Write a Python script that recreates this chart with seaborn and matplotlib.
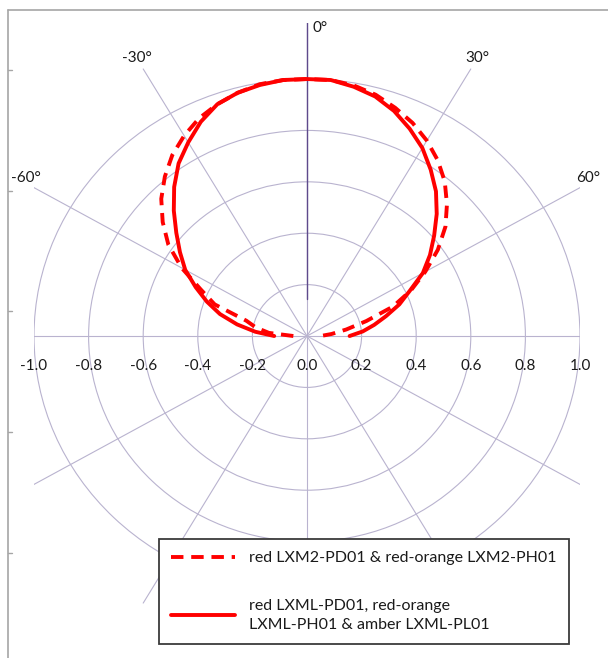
import numpy as np
import pandas as pd
import matplotlib
matplotlib.use("Agg")
import matplotlib.pyplot as plt
from matplotlib.patches import Circle
from matplotlib.lines import Line2D
import seaborn as sns

# radiation pattern, relative intensity vs. angle (deg)
angles = [-90, -85, -80, -75, -70, -65, -60, -55, -50, -45, -40, -35, -30, -25, -20, -15, -10, -5,
          0, 5, 10, 15, 20, 25, 30, 35, 40, 45, 50, 55, 60, 65, 70, 75, 80, 85, 90]
lxm2 = [0.05, 0.14, 0.19, 0.23, 0.36, 0.43, 0.53, 0.62, 0.69, 0.755, 0.81, 0.86, 0.90, 0.935, 0.96, 0.98, 0.995, 1.0,
        1.0, 1.0, 0.99, 0.972, 0.945, 0.915, 0.878, 0.835, 0.785, 0.725, 0.662, 0.585, 0.50, 0.42, 0.335, 0.225, 0.146, 0.09, 0.05]
lxml = [0.12, 0.19, 0.26, 0.33, 0.39, 0.45, 0.515, 0.568, 0.625, 0.69, 0.757, 0.82, 0.87, 0.92, 0.96, 0.98, 0.992, 1.0,
        1.0, 1.0, 0.985, 0.965, 0.932, 0.89, 0.845, 0.79, 0.735, 0.672, 0.608, 0.55, 0.49, 0.415, 0.36, 0.30, 0.25, 0.205, 0.156]

label_dash = "red LXM2-PD01 & red-orange LXM2-PH01"
label_solid = "red LXML-PD01, red-orange\nLXML-PH01 & amber LXML-PL01"

ring_radii = [0.2, 0.4, 0.6, 0.8, 1.0]
spoke_angles = list(range(0, 360, 30))
angle_labels = [-60, -30, 0, 30, 60]
x_ticks = [-1.0, -0.8, -0.6, -0.4, -0.2, 0.0, 0.2, 0.4, 0.6, 0.8, 1.0]

grid_col = "#B9B3CF"
dark_col = "#5E4A8C"
red = "#FF0000"
txt_col = "#1a1a1a"

sns.set_theme(style="white")
plt.rcParams["font.family"] = ["Lato", "DejaVu Sans"]

fig = plt.figure(figsize=(6.08, 6.58), dpi=100)
ax = fig.add_axes([34 / 608, 13.6 / 658, 546 / 608, 621.9 / 658])
ax.set_xlim(-1.0, 1.0)
ax.set_ylim(-1.2, 1.22)
ax.set_axis_off()

# grid: rings and spokes
for r in ring_radii:
    ax.add_patch(Circle((0, 0), r, fill=False, ec=grid_col, lw=0.8, zorder=1))
for a in spoke_angles:
    t = np.radians(a)
    ax.plot([0, 1.2 * np.sin(t)], [0, 1.2 * np.cos(t)], color=grid_col, lw=0.8, zorder=1)
ax.plot([0, 0], [0.145, 1.22], color=dark_col, lw=1.0, zorder=2)

# curves
th = np.radians(angles)
df = pd.DataFrame({
    "x": np.concatenate([np.array(lxm2) * np.sin(th), np.array(lxml) * np.sin(th)]),
    "y": np.concatenate([np.array(lxm2) * np.cos(th), np.array(lxml) * np.cos(th)]),
    "series": [label_dash] * len(angles) + [label_solid] * len(angles),
})
sns.lineplot(data=df[df.series == label_dash], x="x", y="y", sort=False, estimator=None,
             color=red, lw=2.8, label=label_dash, ax=ax, zorder=3)
ax.lines[-1].set_dashes((3.2, 2.0))
sns.lineplot(data=df[df.series == label_solid], x="x", y="y", sort=False, estimator=None,
             color=red, lw=2.8, label=label_solid, ax=ax, zorder=3)

# axis labels
for v in x_ticks:
    ax.text(v, -0.115, f"{v:.1f}", ha="center", va="center", fontsize=11, color=txt_col)
for a in angle_labels:
    t = np.radians(a)
    if a == 0:
        ax.text(0.02, 1.2, "0°", ha="left", va="center", fontsize=11, color=txt_col, clip_on=False)
    elif abs(a) == 30:
        ax.text(1.25 * np.sin(t), 1.25 * np.cos(t), f"{a}°", ha="center", va="center",
                fontsize=11, color=txt_col, clip_on=False)
    else:
        ax.text(1.19 * np.sin(t), 1.19 * np.cos(t) + 0.02, f"{a}°", ha="center", va="center",
                fontsize=11, color=txt_col, clip_on=False)

leg = ax.legend(loc="upper left", bbox_to_anchor=(159 / 608, 1 - 539 / 658),
                bbox_transform=fig.transFigure, borderaxespad=0, frameon=True, fancybox=False,
                fontsize=11.5, handlelength=4.0, handletextpad=0.9, labelspacing=2.1,
                borderpad=0.75)
leg.get_frame().set_edgecolor("#3a3a3a")
leg.get_frame().set_linewidth(1.3)
leg.get_frame().set_alpha(1)
leg.set_zorder(5)
for t in leg.get_texts():
    t.set_color(txt_col)
    t.set_linespacing(1.45)

# outer chart border (left and top)
fig.add_artist(Line2D([8 / 608, 8 / 608], [0, 1 - 10 / 658], transform=fig.transFigure,
                      color="#A6A6A6", lw=1.2))
fig.add_artist(Line2D([8 / 608, 1], [1 - 10 / 658, 1 - 10 / 658], transform=fig.transFigure,
                      color="#A6A6A6", lw=1.2))
for py in [70, 191, 311, 432, 553]:
    fig.add_artist(Line2D([8 / 608, 12 / 608], [1 - py / 658, 1 - py / 658], transform=fig.transFigure,
                          color="#A6A6A6", lw=1.0))

fig.savefig("out.png", dpi=100, facecolor="white")
